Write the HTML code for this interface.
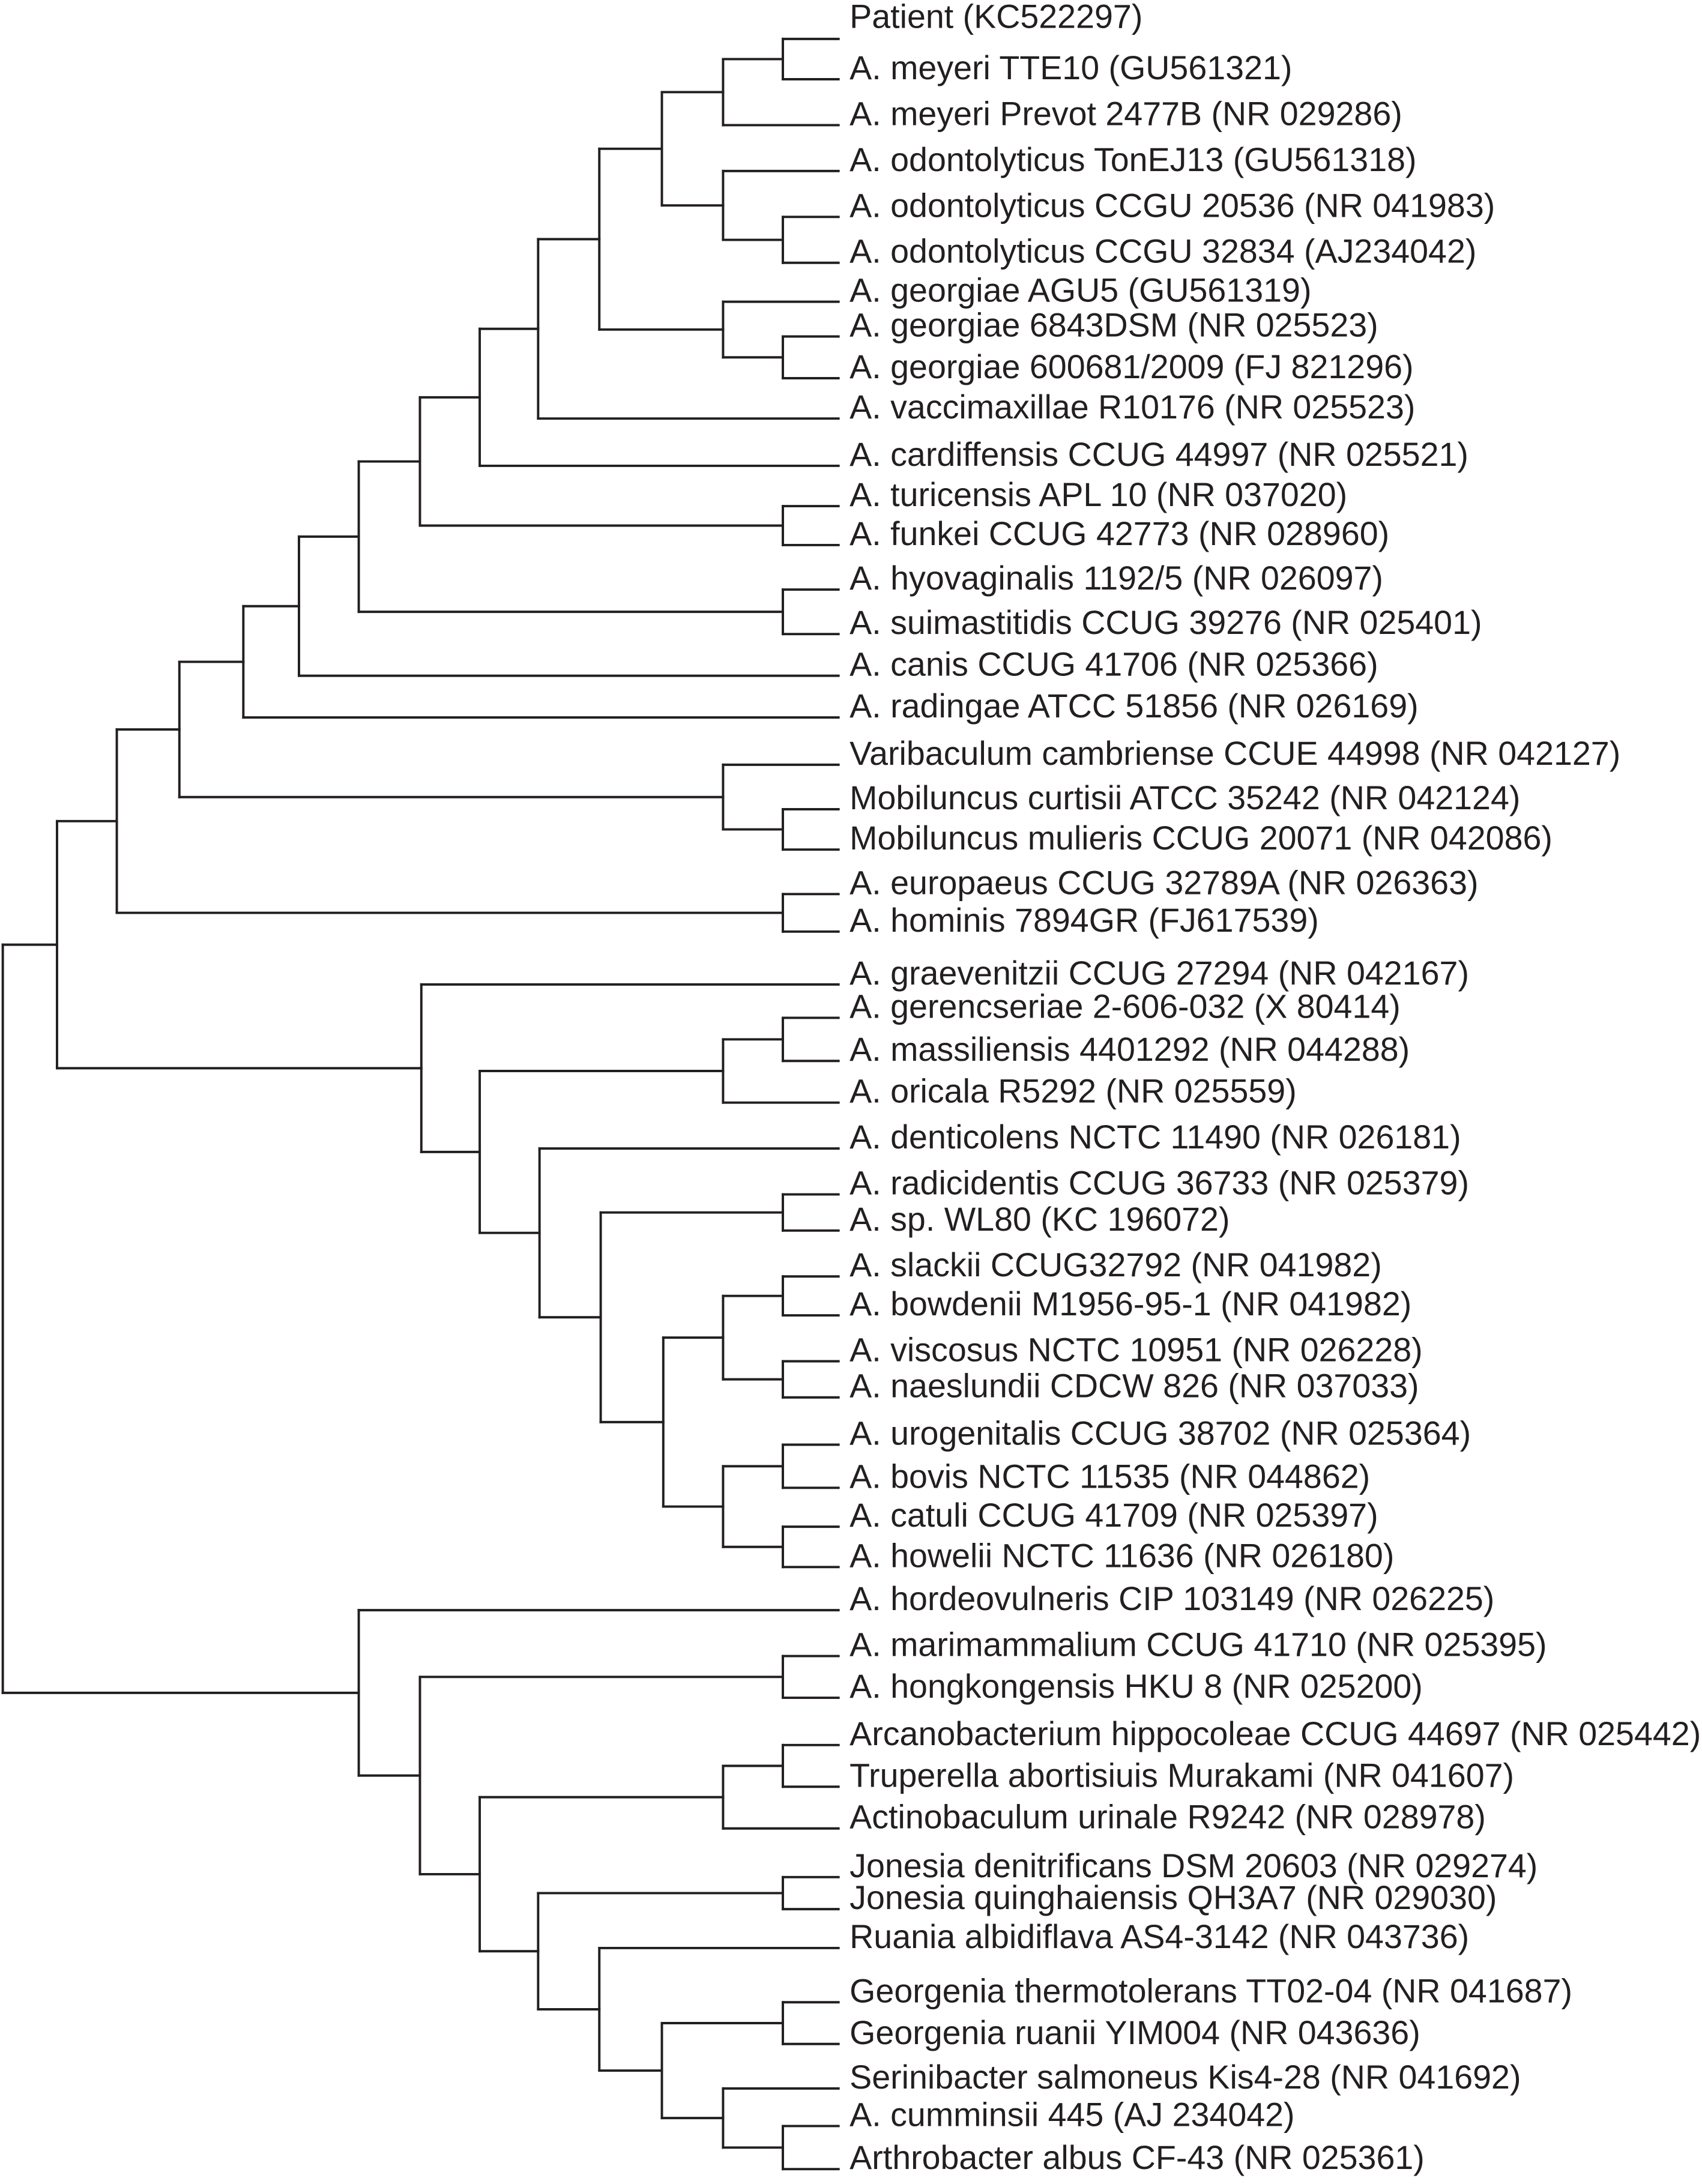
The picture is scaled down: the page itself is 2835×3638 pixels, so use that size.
<!DOCTYPE html>
<html>
<head>
<meta charset="utf-8">
<style>
  html, body { margin:0; padding:0; background:#ffffff; }
  #chart { display:block; width:2835px; height:3638px; }
  text { font-family:"Liberation Sans", Arial, sans-serif; font-size:24px; fill:#231f20; }
</style>
</head>
<body>
<svg id="chart" xmlns="http://www.w3.org/2000/svg" width="2835" height="3638" viewBox="0 0 1224 1570.7" preserveAspectRatio="none">
  <g id="branches"></g>
  <g id="labels"></g>
</svg>
<script>
const leafLabels = [
  "Patient (KC522297)",
  "A. meyeri TTE10 (GU561321)",
  "A. meyeri Prevot 2477B (NR 029286)",
  "A. odontolyticus TonEJ13 (GU561318)",
  "A. odontolyticus CCGU 20536 (NR 041983)",
  "A. odontolyticus CCGU 32834 (AJ234042)",
  "A. georgiae AGU5 (GU561319)",
  "A. georgiae 6843DSM (NR 025523)",
  "A. georgiae 600681/2009 (FJ 821296)",
  "A. vaccimaxillae R10176 (NR 025523)",
  "A. cardiffensis CCUG 44997 (NR 025521)",
  "A. turicensis APL 10 (NR 037020)",
  "A. funkei CCUG 42773 (NR 028960)",
  "A. hyovaginalis 1192/5 (NR 026097)",
  "A. suimastitidis CCUG 39276 (NR 025401)",
  "A. canis CCUG 41706 (NR 025366)",
  "A. radingae ATCC 51856 (NR 026169)",
  "Varibaculum cambriense CCUE 44998 (NR 042127)",
  "Mobiluncus curtisii ATCC 35242 (NR 042124)",
  "Mobiluncus mulieris CCUG 20071 (NR 042086)",
  "A. europaeus CCUG 32789A (NR 026363)",
  "A. hominis 7894GR (FJ617539)",
  "A. graevenitzii CCUG 27294 (NR 042167)",
  "A. gerencseriae 2-606-032 (X 80414)",
  "A. massiliensis 4401292 (NR 044288)",
  "A. oricala R5292 (NR 025559)",
  "A. denticolens NCTC 11490 (NR 026181)",
  "A. radicidentis CCUG 36733 (NR 025379)",
  "A. sp. WL80 (KC 196072)",
  "A. slackii CCUG32792 (NR 041982)",
  "A. bowdenii M1956-95-1 (NR 041982)",
  "A. viscosus NCTC 10951 (NR 026228)",
  "A. naeslundii CDCW 826 (NR 037033)",
  "A. urogenitalis CCUG 38702 (NR 025364)",
  "A. bovis NCTC 11535 (NR 044862)",
  "A. catuli CCUG 41709 (NR 025397)",
  "A. howelii NCTC 11636 (NR 026180)",
  "A. hordeovulneris CIP 103149 (NR 026225)",
  "A. marimammalium CCUG 41710 (NR 025395)",
  "A. hongkongensis HKU 8 (NR 025200)",
  "Arcanobacterium hippocoleae CCUG 44697 (NR 025442)",
  "Truperella abortisiuis Murakami (NR 041607)",
  "Actinobaculum urinale R9242 (NR 028978)",
  "Jonesia denitrificans DSM 20603 (NR 029274)",
  "Jonesia quinghaiensis QH3A7 (NR 029030)",
  "Ruania albidiflava AS4-3142 (NR 043736)",
  "Georgenia thermotolerans TT02-04 (NR 041687)",
  "Georgenia ruanii YIM004 (NR 043636)",
  "Serinibacter salmoneus Kis4-28 (NR 041692)",
  "A. cumminsii 445 (AJ 234042)",
  "Arthrobacter albus CF-43 (NR 025361)"
];
const leafY = [28,57,90,123,156,189,217,242,272,301,335,364,392,424,456,486,516,550,582,611,643,670,708,732,763,793,826,859,885,918,946,979,1005,1039,1070,1098,1127,1158,1191,1221,1255,1285,1315,1350,1373,1401,1440,1470,1502,1529,1560];
// Tree: [nodeDepthX, child, child...]; numbers are leaf indices
const tree = [2,
 [41,
  [84,
   [129,
    [175,
     [215,
      [258,
       [302,
        [345,
         [387,
          [431,
           [476,
            [520,[563,0,1],2],
            [520,3,[563,4,5]]],
           [520,6,[563,7,8]]],
          9],
         10],
        [563,11,12]],
       [563,13,14]],
      15],
     16],
    [520,17,[563,18,19]]],
   [563,20,21]],
  [303,
   22,
   [345,
    [520,[563,23,24],25],
    [388,
     26,
     [432,
      [563,27,28],
      [477,
       [520,[563,29,30],[563,31,32]],
       [520,[563,33,34],[563,35,36]]]]]]]],
 [258,
  37,
  [302,
   [563,38,39],
   [345,
    [520,[563,40,41],42],
    [387,
     [563,43,44],
     [431,
      45,
      [476,
       [563,46,47],
       [520,48,[563,49,50]]]]]]]]];
const leafX = 603;
const labelX = 611;

const NS = "http://www.w3.org/2000/svg";
const gB = document.getElementById("branches");
const gL = document.getElementById("labels");
const STROKE = "#231f20", SW = 1.7;

function line(x1, y1, x2, y2, name) {
  const l = document.createElementNS(NS, "line");
  l.setAttribute("x1", x1); l.setAttribute("y1", y1);
  l.setAttribute("x2", x2); l.setAttribute("y2", y2);
  l.setAttribute("stroke", STROKE); l.setAttribute("stroke-width", SW);
  l.setAttribute("stroke-linecap", "square");
  
  
  gB.appendChild(l);
}

function layout(node) {
  if (typeof node === "number") return { x: leafX, y: leafY[node] };
  const x = node[0];
  const ys = [];
  for (let i = 1; i < node.length; i++) {
    const c = layout(node[i]);
    line(x, c.y, c.x, c.y, "branch");
    ys.push(c.y);
  }
  const lo = Math.min(...ys), hi = Math.max(...ys);
  line(x, lo, x, hi, "node-connector");
  return { x: x, y: (lo + hi) / 2 };
}
layout(tree);

leafLabels.forEach((name, i) => {
  const t = document.createElementNS(NS, "text");
  t.setAttribute("x", labelX);
  t.setAttribute("y", i === 0 ? leafY[i] - 8 : leafY[i]);
  t.textContent = name;
  
  
  gL.appendChild(t);
});
</script>
</body>
</html>
